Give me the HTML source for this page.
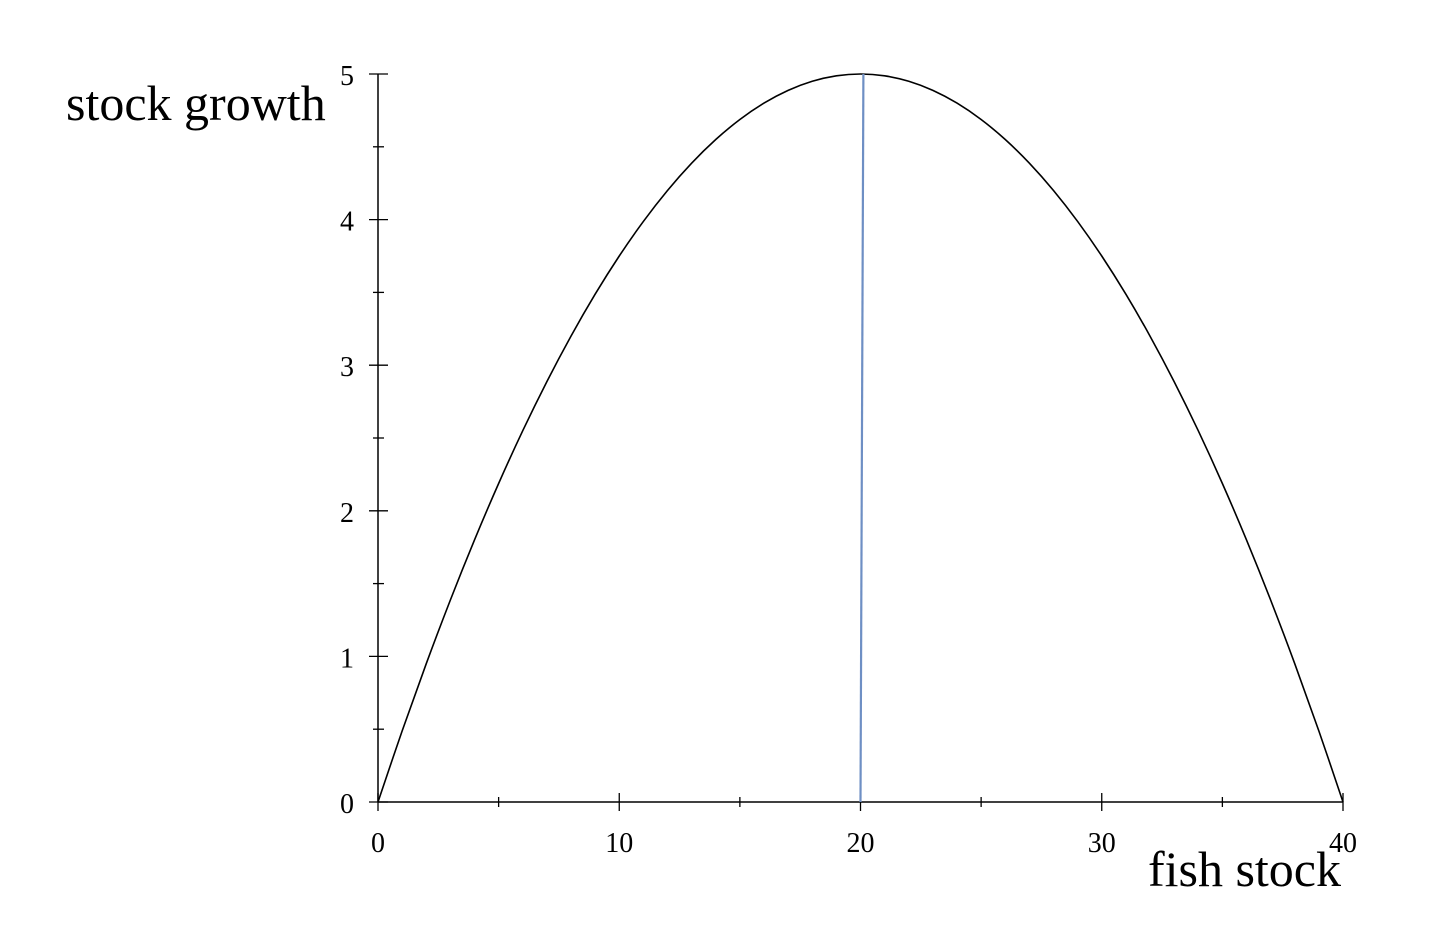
<!DOCTYPE html>
<html><head><meta charset="utf-8"><style>
html,body{margin:0;padding:0;background:#fff;}
svg{display:block;font-family:"Liberation Serif",serif;}
</style></head><body>
<svg id="chart" width="1446" height="930" viewBox="0 0 1446 930">
<g id="axes"></g>
<g id="marks"></g>
<text x="66" y="120" font-size="50">stock growth</text>
<text x="1341" y="886" font-size="50" text-anchor="end">fish stock</text>
</svg>
<script>
const xValues = [0,1,2,3,4,5,6,7,8,9,10,11,12,13,14,15,16,17,18,19,20,21,22,23,24,25,26,27,28,29,30,31,32,33,34,35,36,37,38,39,40];
const growthValues = [0,0.4875,0.95,1.3875,1.8,2.1875,2.55,2.8875,3.2,3.4875,3.75,3.9875,4.2,4.3875,4.55,4.6875,4.8,4.8875,4.95,4.9875,5,4.9875,4.95,4.8875,4.8,4.6875,4.55,4.3875,4.2,3.9875,3.75,3.4875,3.2,2.8875,2.55,2.1875,1.8,1.3875,0.95,0.4875,0];
const msyLineX = [20, 20.12];
const msyLineY = [0, 5];
const xTickLabels = [0,10,20,30,40];
const yTickLabels = [0,1,2,3,4,5];
const xMinorTicks = [5,15,25,35];
const yMinorTicks = [0.5,1.5,2.5,3.5,4.5];

const NS="http://www.w3.org/2000/svg";
const sx = v => 378 + v*(1343-378)/40;
const sy = v => 802 - v*(802-74)/5;
const axes=document.getElementById('axes'), marks=document.getElementById('marks');
function mk(tag, attrs, parent){const e=document.createElementNS(NS,tag);for(const k in attrs)e.setAttribute(k,attrs[k]);parent.appendChild(e);return e;}

let e=mk('line',{x1:sx(0),y1:sy(0),x2:sx(40),y2:sy(0),stroke:'#000','stroke-width':1.5},axes);


e=mk('line',{x1:sx(0),y1:sy(0),x2:sx(0),y2:sy(5),stroke:'#000','stroke-width':1.5},axes);



xTickLabels.forEach(v=>{
  const t=mk('line',{x1:sx(v),y1:793,x2:sx(v),y2:811,stroke:'#000','stroke-width':1.3},axes);
  
  
  const l=mk('text',{x:sx(v),y:852,'font-size':28,'text-anchor':'middle'},axes);
  l.textContent=v;
  
  
});
xMinorTicks.forEach(v=>{
  const t=mk('line',{x1:sx(v),y1:797,x2:sx(v),y2:807,stroke:'#000','stroke-width':1.3},axes);
  
  
});
yTickLabels.forEach(v=>{
  const t=mk('line',{x1:369,y1:sy(v),x2:388,y2:sy(v),stroke:'#000','stroke-width':1.3},axes);
  
  
  const l=mk('text',{x:354,y:sy(v)+11,'font-size':28,'text-anchor':'end'},axes);
  l.textContent=v;
  
  
});
yMinorTicks.forEach(v=>{
  const t=mk('line',{x1:373,y1:sy(v),x2:384,y2:sy(v),stroke:'#000','stroke-width':1.3},axes);
  
  
});

const pts=xValues.map((x,i)=>[sx(x),sy(growthValues[i])]);
let d=`M${pts[0][0]},${pts[0][1]}`;
for(let i=0;i<pts.length-1;i++){
  const p0=pts[Math.max(0,i-1)],p1=pts[i],p2=pts[i+1],p3=pts[Math.min(pts.length-1,i+2)];
  const c1=[p1[0]+(p2[0]-p0[0])/6,p1[1]+(p2[1]-p0[1])/6];
  const c2=[p2[0]-(p3[0]-p1[0])/6,p2[1]-(p3[1]-p1[1])/6];
  d+=` C${c1[0]},${c1[1]} ${c2[0]},${c2[1]} ${p2[0]},${p2[1]}`;
}
const curve=mk('path',{d:d,fill:'none',stroke:'#000','stroke-width':1.6},marks);



const ml=mk('line',{x1:sx(msyLineX[0]),y1:sy(msyLineY[0]),x2:sx(msyLineX[1]),y2:sy(msyLineY[1]),stroke:'#6e8fc4','stroke-width':2.2},marks);


</script>
</body></html>
